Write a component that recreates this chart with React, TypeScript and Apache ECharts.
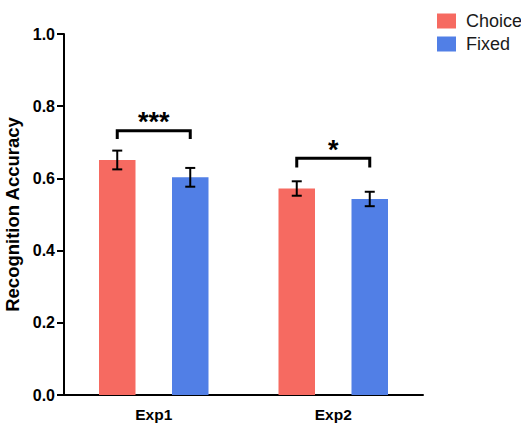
import React, { useEffect, useRef } from "react";
import * as echarts from "echarts";

const categories = ["Exp1", "Exp2"];
const seriesNames = ["Choice", "Fixed"];
const choiceValues = [0.651, 0.572];
const fixedValues = [0.603, 0.543];
const choiceErrors = [0.026, 0.02];
const fixedErrors = [0.026, 0.02];
const sigLabels = ["***", "*"];
const sigBracketTops = [0.732, 0.656];
const sigBracketLegs = [0.709, 0.63];
const yTicks = [0, 0.2, 0.4, 0.6, 0.8, 1.0];

const CHOICE_COLOR = "#F66A61";
const FIXED_COLOR = "#517FE6";
const BAR_WIDTH = 36.5;
const FONT = "'Liberation Sans', Arial, Helvetica, sans-serif";

export default function App() {
  const ref = useRef<HTMLDivElement>(null);
  useEffect(() => {
    if (!ref.current) return;
    const chart = echarts.init(ref.current, undefined, { renderer: "svg" });

    const errData: number[][] = [];
    categories.forEach((_, i) => {
      errData.push([i, choiceValues[i], choiceErrors[i], -1]);
      errData.push([i, fixedValues[i], fixedErrors[i], 1]);
    });
    const sigData = categories.map((_, i) => [i, sigBracketTops[i], sigBracketLegs[i]]);

    chart.setOption({
      animation: false,
      textStyle: { fontFamily: FONT },
      legend: {
        orient: "vertical",
        left: 432,
        top: 7,
        icon: "rect",
        itemWidth: 19,
        itemHeight: 15,
        itemGap: 5,
        data: seriesNames,
        textStyle: { fontSize: 18, color: "#1a1a1a", fontFamily: FONT, padding: [0, 0, 0, 5] },
      },
      grid: { left: 64, right: 98, top: 34, bottom: 30, containLabel: false, outerBoundsMode: "none" },
      xAxis: {
        type: "category",
        data: categories,
        axisLine: { lineStyle: { color: "#000", width: 2 } },
        axisTick: { alignWithLabel: true, length: 6, lineStyle: { color: "#000", width: 2 } },
        axisLabel: { color: "#000", fontWeight: "bold", fontSize: 15.5, margin: 11, fontFamily: FONT },
      },
      yAxis: {
        type: "value",
        min: 0,
        max: 1,
        interval: 0.2,
        name: "Recognition Accuracy",
        nameLocation: "middle",
        nameGap: 34,
        nameTextStyle: { color: "#000", fontWeight: "bold", fontSize: 18.5, fontFamily: FONT },
        axisLine: { show: true, lineStyle: { color: "#000", width: 2 } },
        axisTick: { show: true, length: 7, lineStyle: { color: "#000", width: 2 } },
        axisLabel: {
          color: "#000",
          fontWeight: "bold",
          fontSize: 16,
          margin: 9,
          fontFamily: FONT,
          formatter: (v: number) => (yTicks.includes(Math.round(v * 10) / 10) ? v.toFixed(1) : ""),
        },
        splitLine: { show: false },
      },
      series: [
        {
          name: seriesNames[0],
          type: "bar",
          data: choiceValues,
          barWidth: BAR_WIDTH,
          barGap: "100%",
          itemStyle: { color: CHOICE_COLOR },
        },
        {
          name: seriesNames[1],
          type: "bar",
          data: fixedValues,
          barWidth: BAR_WIDTH,
          barGap: "100%",
          itemStyle: { color: FIXED_COLOR },
        },
        {
          type: "custom",
          data: errData,
          z: 10,
          renderItem: (params: any, api: any) => {
            const cat = api.value(0);
            const val = api.value(1);
            const err = api.value(2);
            const sign = api.value(3);
            const c = api.coord([cat, val]);
            const x = c[0] + sign * BAR_WIDTH;
            const top = api.coord([cat, val + err])[1];
            const bot = api.coord([cat, val - err])[1];
            const hw = 5;
            const st = { stroke: "#000", lineWidth: 2 };
            return {
              type: "group",
              children: [
                { type: "line", shape: { x1: x, y1: top, x2: x, y2: bot }, style: st },
                { type: "line", shape: { x1: x - hw, y1: top, x2: x + hw, y2: top }, style: st },
                { type: "line", shape: { x1: x - hw, y1: bot, x2: x + hw, y2: bot }, style: st },
              ],
            };
          },
        },
        {
          type: "custom",
          data: sigData,
          z: 10,
          renderItem: (params: any, api: any) => {
            const cat = api.value(0);
            const topV = api.value(1);
            const legV = api.value(2);
            const c = api.coord([cat, topV]);
            const yTop = c[1];
            const yLeg = api.coord([cat, legV])[1];
            const x1 = c[0] - BAR_WIDTH;
            const x2 = c[0] + BAR_WIDTH;
            const st = { stroke: "#000", lineWidth: 3, fill: "none" };
            return {
              type: "group",
              children: [
                {
                  type: "polyline",
                  shape: { points: [[x1, yLeg], [x1, yTop], [x2, yTop], [x2, yLeg]] },
                  style: st,
                },
                {
                  type: "text",
                  x: c[0],
                  y: yTop - 22,
                  style: {
                    text: sigLabels[params.dataIndex],
                    fontSize: 27,
                    fontWeight: "bold",
                    fontFamily: FONT,
                    fill: "#000",
                    align: "center",
                    verticalAlign: "top",
                  },
                },
              ],
            };
          },
        },
      ],
    });
    return () => chart.dispose();
  }, []);
  return (
    <div
      ref={ref}
      style={{ position: "fixed", left: 0, top: 0, width: 521, height: 425, background: "#fff" }}
    />
  );
}
